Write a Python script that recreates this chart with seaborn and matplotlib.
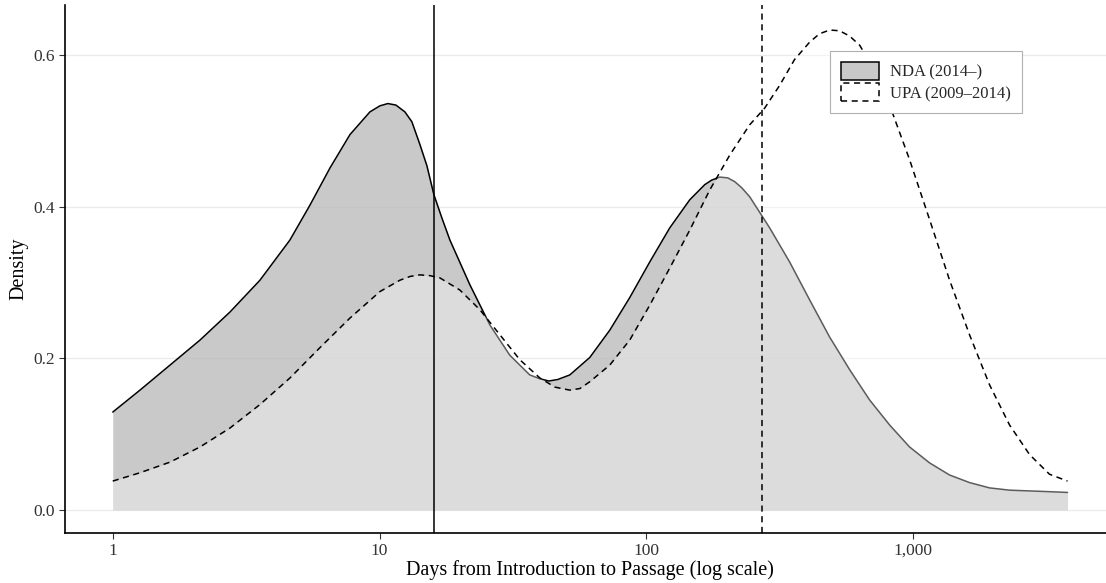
import matplotlib
matplotlib.use("Agg")
import matplotlib.pyplot as plt
import seaborn as sns
from matplotlib.patches import Patch
from matplotlib.ticker import NullLocator

# Density of days from introduction to passage, NDA period (2014-)
nda_days = [1.0, 1.265, 1.639, 2.123, 2.750, 3.562, 4.613, 5.483, 6.516, 7.742,
            9.199, 10.03, 10.74, 11.51, 12.44, 13.21, 14.16, 15.04, 15.97, 17.12,
            18.34, 21.79, 25.89, 30.76, 36.55, 39.84, 43.07, 46.54, 51.61, 61.32,
            72.87, 86.58, 102.9, 122.3, 145.3, 165.4, 175.6, 188.2, 201.6, 214.2,
            227.5, 243.8, 289.6, 344.1, 408.9, 485.9, 577.4, 686.1, 815.3, 968.5,
            1151, 1368, 1625, 1931, 2295, 2727, 3240, 3785]
nda_density = [0.129, 0.158, 0.191, 0.224, 0.261, 0.303, 0.356, 0.402, 0.451, 0.495,
               0.525, 0.533, 0.536, 0.534, 0.525, 0.512, 0.482, 0.454, 0.416, 0.385,
               0.356, 0.297, 0.244, 0.204, 0.178, 0.173, 0.170, 0.172, 0.178, 0.201,
               0.237, 0.280, 0.327, 0.372, 0.409, 0.429, 0.435, 0.439, 0.438, 0.433,
               0.425, 0.413, 0.372, 0.327, 0.277, 0.228, 0.185, 0.145, 0.112, 0.083,
               0.062, 0.046, 0.036, 0.029, 0.026, 0.025, 0.024, 0.023]

# Density for the UPA period (2009-2014)
upa_days = [1.0, 1.265, 1.639, 2.123, 2.750, 3.562, 4.613, 5.976, 7.742, 10.03,
            11.92, 13.03, 14.16, 15.43, 16.83, 19.99, 23.76, 28.23, 33.55, 39.86,
            45.35, 48.18, 51.61, 56.26, 61.32, 72.87, 86.58, 102.9, 122.3, 145.3,
            172.7, 205.2, 243.8, 277.4, 315.7, 358.9, 408.9, 445.0, 485.9, 529.6,
            577.4, 629.4, 716.4, 815.3, 968.5, 1151, 1368, 1625, 1931, 2295,
            2727, 3240, 3785]
upa_density = [0.038, 0.049, 0.063, 0.083, 0.108, 0.139, 0.174, 0.214, 0.253, 0.288,
               0.303, 0.308, 0.310, 0.309, 0.306, 0.290, 0.264, 0.231, 0.198, 0.174,
               0.162, 0.160, 0.158, 0.160, 0.169, 0.191, 0.224, 0.270, 0.319, 0.369,
               0.422, 0.468, 0.508, 0.530, 0.560, 0.594, 0.617, 0.628, 0.633, 0.632,
               0.625, 0.613, 0.580, 0.534, 0.462, 0.383, 0.303, 0.231, 0.165, 0.112,
               0.073, 0.047, 0.038]

# Median days for each period (NDA, UPA)
median_days = [16, 270]

legend_labels = ["NDA (2014\u2013)", "UPA (2009\u20132014)"]
x_ticks = [1, 10, 100, 1000]
x_tick_labels = ["1", "10", "100", "1,000"]
y_ticks = [0.0, 0.2, 0.4, 0.6]

sns.set_theme(style="white")
plt.rcParams["font.family"] = ["Liberation Serif", "DejaVu Serif"]

W, H = 1106, 583
fig = plt.figure(figsize=(W / 100, H / 100), dpi=100)
ax = fig.add_axes([65 / W, (H - 533) / H, (1115 - 65) / W, (533 - 5) / H])

dash = (0, (4, 3))

# NDA: grey area and solid outline
ax.fill_between(nda_days, 0, nda_density, color="#bdbdbd", alpha=0.82,
                linewidth=0, zorder=1)
sns.lineplot(x=nda_days, y=nda_density, ax=ax, color="black", linewidth=1.1,
             sort=False, estimator=None, zorder=2)

# UPA: translucent white area that lightens the overlap, dashed outline
ax.fill_between(upa_days, 0, upa_density, color="white", alpha=0.36,
                linewidth=0, zorder=3)
sns.lineplot(x=upa_days, y=upa_density, ax=ax, color="black", linewidth=1.1,
             linestyle=dash, sort=False, estimator=None, zorder=4)

# Median markers
ax.axvline(median_days[0], color="black", linewidth=1.1, zorder=5)
ax.axvline(median_days[1], color="black", linewidth=1.1, linestyle=dash, zorder=5)

ax.set_xscale("log")
ax.set_xlim(10 ** -0.179, 10 ** 3.756)
ax.set_ylim(-0.0305, 0.666)
ax.set_xticks(x_ticks)
ax.set_xticklabels(x_tick_labels)
ax.xaxis.set_minor_locator(NullLocator())
ax.set_yticks(y_ticks)
ax.set_yticklabels([f"{v:.1f}" for v in y_ticks])

ax.yaxis.grid(True, color="#ebebeb", linewidth=0.9)
ax.xaxis.grid(False)
ax.set_axisbelow(True)

for side in ("top", "right"):
    ax.spines[side].set_visible(False)
for side in ("left", "bottom"):
    ax.spines[side].set_color("black")
    ax.spines[side].set_linewidth(1.2)

ax.tick_params(axis="both", which="major", direction="out", length=4, width=0.8,
               color="#333333", labelsize=12.5, labelcolor="#333333", pad=3,
               bottom=True, left=True)

ax.set_xlabel("Days from Introduction to Passage (log scale)", fontsize=14.5,
              color="black", labelpad=1)
ax.set_ylabel("Density", fontsize=14.5, color="black", labelpad=4)

handles = [
    Patch(facecolor="#c8c8c8", edgecolor="black", linewidth=1.1),
    Patch(facecolor="white", edgecolor="black", linewidth=1.1, linestyle=dash),
]
leg = ax.legend(handles, legend_labels, loc="upper left",
                bbox_to_anchor=(830 / W, 1 - 51 / H), bbox_transform=fig.transFigure,
                frameon=True, fancybox=False, framealpha=1, facecolor="white",
                edgecolor="#b0b0b0", fontsize=12, handlelength=2.28,
                handleheight=1.26, handletextpad=0.66, labelspacing=0.18,
                borderpad=0.66, borderaxespad=0)
leg.get_frame().set_linewidth(0.8)
leg.set_zorder(10)

fig.savefig("out.png", dpi=100)
